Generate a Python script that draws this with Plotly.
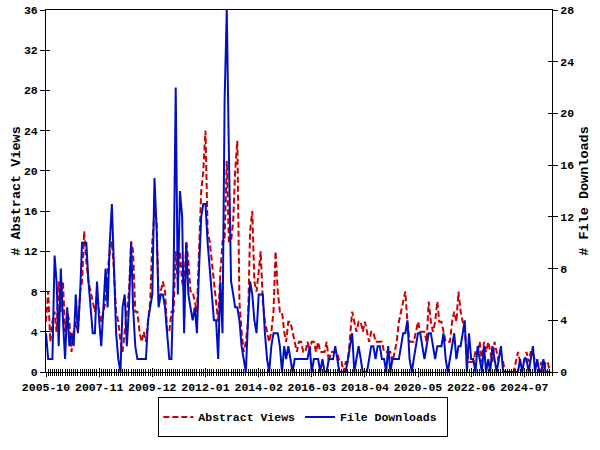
import pandas as pd
import plotly.graph_objects as go

start_month = "2005-10-01"
end_month = "2025-08-01"
tick_labels_every = "M25"

abstract_views = [
    5, 8, 3, 5, 6, 4, 9, 6, 9, 4, 6, 5, 2, 4, 5, 4, 8, 9, 14, 11,
    9, 8, 7, 6, 8, 6, 5, 6, 7, 10, 12, 13, 10, 6, 5, 3, 2, 4, 6, 8,
    13, 12, 6, 6, 4, 3, 4, 3, 5, 7, 13, 16, 15, 7, 8, 9, 8, 4, 4, 6,
    6, 12, 9, 12, 9, 8, 13, 11, 8, 8, 7, 6, 12, 18, 20, 24, 14, 13, 11, 9,
    7, 5, 10, 13, 13, 21, 13, 13, 15, 20, 23, 7, 4, 2, 3, 5, 14, 16, 9, 8,
    10, 12, 7, 5, 4, 3, 4, 6, 12, 8, 6, 6, 4, 3, 5, 5, 4, 3, 2, 3,
    3, 2, 2, 3, 2, 3, 3, 2, 3, 2, 2, 2, 3, 1, 2, 2, 2, 2, 1, 1,
    0, 1, 1, 4, 6, 5, 4, 5, 5, 4, 5, 4, 3, 4, 4, 3, 3, 3, 3, 2,
    2, 2, 2, 1, 2, 3, 5, 6, 7, 8, 5, 3, 3, 3, 4, 5, 4, 4, 4, 3,
    7, 5, 4, 5, 7, 5, 5, 4, 3, 3, 3, 5, 6, 5, 8, 6, 5, 4, 2, 1,
    1, 1, 2, 2, 3, 1, 3, 2, 3, 2, 1, 3, 2, 1, 1, 1, 0, 0, 0, 0,
    0, 1, 2, 1, 1, 1, 2, 1, 2, 2, 1, 1, 0, 1, 0, 1, 1, 0,
]

file_downloads = [
    3, 1, 1, 1, 9, 7, 2, 8, 4, 1, 5, 2, 3, 2, 6, 3, 6, 10, 10, 10,
    7, 5, 3, 3, 7, 4, 2, 5, 8, 5, 10, 13, 8, 3, 1, 0, 5, 6, 2, 5,
    10, 5, 2, 1, 1, 1, 1, 1, 4, 5, 6, 15, 11, 5, 6, 6, 5, 3, 1, 1,
    7, 22, 6, 14, 12, 3, 10, 6, 5, 4, 5, 3, 8, 12, 13, 13, 10, 8, 6, 4,
    4, 1, 7, 3, 21, 28, 17, 7, 6, 5, 5, 4, 2, 1, 0, 4, 7, 6, 4, 3,
    6, 6, 6, 3, 1, 0, 2, 3, 3, 3, 2, 0, 2, 1, 2, 1, 0, 1, 1, 1,
    1, 1, 1, 1, 2, 0, 1, 1, 1, 0, 1, 0, 0, 1, 1, 1, 2, 1, 0, 0,
    0, 0, 1, 2, 3, 0, 1, 2, 1, 0, 0, 0, 1, 2, 2, 1, 2, 2, 1, 1,
    0, 2, 0, 1, 1, 1, 1, 2, 3, 3, 4, 1, 0, 1, 2, 3, 3, 2, 1, 2,
    3, 3, 2, 1, 2, 2, 2, 3, 1, 0, 1, 2, 3, 1, 2, 2, 3, 4, 0, 3,
    1, 1, 0, 2, 1, 0, 2, 0, 1, 0, 2, 1, 0, 1, 2, 0, 0, 0, 0, 0,
    0, 0, 0, 1, 0, 1, 1, 0, 1, 2, 0, 1, 0, 0, 1, 0, 0, 0,
]

months = pd.date_range(start_month, periods=len(file_downloads), freq="MS")

FONT = "Liberation Mono, DejaVu Sans Mono, monospace"
RED = "#cc0000"
BLUE = "#0010c0"

fig = go.Figure()
fig.add_trace(go.Scatter(
    x=months, y=abstract_views, name="Abstract Views", mode="lines",
    line=dict(color=RED, width=2, dash="6px,3px"), xaxis="x", yaxis="y",
))
fig.add_trace(go.Scatter(
    x=months, y=file_downloads, name="File Downloads", mode="lines",
    line=dict(color=BLUE, width=2), xaxis="x", yaxis="y2",
))
# invisible helpers so the inside half of the crossing ticks is drawn
fig.add_trace(go.Scatter(x=[months[0]], y=[0], mode="none", showlegend=False,
                         hoverinfo="skip", xaxis="x2", yaxis="y3"))
fig.add_trace(go.Scatter(x=[months[0]], y=[0], mode="none", showlegend=False,
                         hoverinfo="skip", xaxis="x2", yaxis="y4"))

axis_font = dict(family=FONT, size=11.5, color="black", weight="bold")
title_font = dict(family=FONT, size=13.5, color="black", weight="bold")
common = dict(showgrid=False, zeroline=False, automargin=False, tickcolor="black")

fig.update_layout(
    width=600, height=450,
    margin=dict(l=46, r=48, t=10, b=78, autoexpand=False),
    paper_bgcolor="white", plot_bgcolor="white",
    font=dict(family=FONT, size=12, color="black", weight="bold"),
    showlegend=True,
    legend=dict(
        orientation="h", x=0.222, xanchor="left", y=-0.124, yanchor="middle",
        borderwidth=0, bgcolor="rgba(0,0,0,0)",
        font=dict(family=FONT, size=11.5, color="black", weight="bold"),
        itemwidth=30,
    ),
    xaxis=dict(
        type="date", range=[start_month, end_month],
        tick0=start_month, dtick=tick_labels_every, tickformat="%Y-%m",
        ticks="outside", ticklen=4, tickangle=0,
        minor=dict(dtick="M1", ticks="outside", ticklen=3, tickcolor="black"),
        showline=True, linecolor="black", linewidth=1, mirror=True,
        tickfont=axis_font, anchor="y", **common,
    ),
    xaxis2=dict(
        type="date", range=[start_month, end_month], overlaying="x", anchor="y3",
        tick0=start_month, dtick=tick_labels_every, ticks="inside", ticklen=4,
        minor=dict(dtick="M1", ticks="inside", ticklen=3, tickcolor="black"),
        showticklabels=False, showline=False, **common,
    ),
    yaxis=dict(
        range=[0, 36], dtick=4, ticks="outside", ticklen=5,
        showline=True, linecolor="black", linewidth=1,
        tickfont=axis_font, anchor="x", **common,
        title=dict(text="# Abstract Views", font=title_font, standoff=0),
    ),
    yaxis2=dict(
        range=[0, 28], dtick=4, overlaying="y", side="right", anchor="x",
        ticks="outside", ticklen=5,
        showline=True, linecolor="black", linewidth=1,
        tickfont=axis_font, **common,
        title=dict(text="# File Downloads", font=title_font, standoff=5),
    ),
    yaxis3=dict(
        range=[0, 36], dtick=4, overlaying="y", side="left", anchor="x2",
        ticks="inside", ticklen=4, showticklabels=False, showline=False, **common,
    ),
    yaxis4=dict(
        range=[0, 28], dtick=4, overlaying="y", side="right", anchor="x2",
        ticks="inside", ticklen=4, showticklabels=False, showline=False, **common,
    ),
    annotations=[dict(
        xref="paper", yref="paper", x=0.5079, y=-0.1243,
        xanchor="center", yanchor="middle", text=" ", showarrow=False,
        width=288, height=38, borderwidth=1, bordercolor="black", borderpad=0,
    )],
)

fig.write_html(
    "out.html",
    config={"displayModeBar": False},
    post_script="document.body.style.margin='0';document.body.style.padding='0';",
)
